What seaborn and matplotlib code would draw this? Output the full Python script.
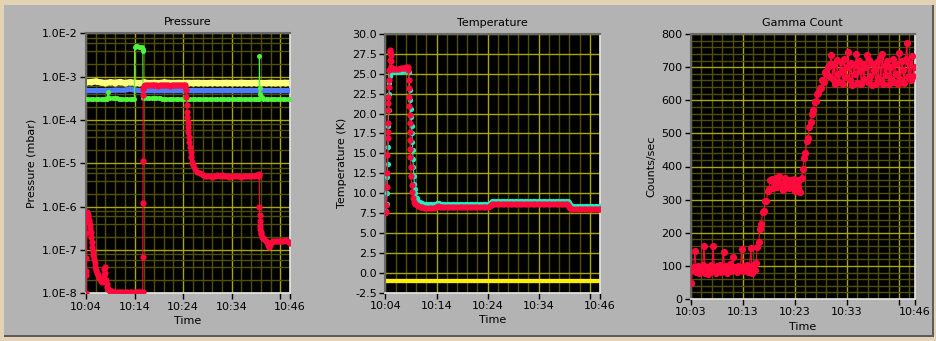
import numpy as np
import matplotlib
matplotlib.use("Agg")
import matplotlib.pyplot as plt
from matplotlib.patches import Rectangle
from matplotlib.ticker import FixedLocator, NullFormatter
import seaborn as sns

plt.rcParams['font.family'] = ['DejaVu Sans']

# ---------------- DATA (time in minutes after 10:00) ----------------
# Pressure panel (mbar)
pressure_yellow = [(4, 7.4e-4), (5, 7.6e-4), (6, 7.8e-4), (7, 7.4e-4), (8, 7.2e-4), (9, 7.5e-4),
                   (10, 7.3e-4), (11, 7.6e-4), (12, 7.2e-4), (13, 7.5e-4), (14, 7.3e-4), (15, 7.2e-4),
                   (16, 7.4e-4), (17, 7.2e-4), (18, 7.3e-4), (19, 7.2e-4), (20, 7.4e-4), (21, 7.3e-4),
                   (22, 7.2e-4), (23, 7.3e-4), (24, 7.2e-4), (25, 7.3e-4), (26, 7.2e-4), (27, 7.3e-4),
                   (28, 7.2e-4), (29, 7.2e-4), (30, 7.3e-4), (31, 7.2e-4), (32, 7.2e-4), (33, 7.3e-4),
                   (34, 7.2e-4), (35, 7.2e-4), (36, 7.3e-4), (37, 7.2e-4), (38, 7.2e-4), (39, 7.3e-4),
                   (40, 7.2e-4), (41, 7.2e-4), (42, 7.3e-4), (43, 7.2e-4), (44, 7.2e-4), (45, 7.3e-4),
                   (46, 7.2e-4)]
pressure_blue = [(4, 4.8e-4), (6, 4.8e-4), (8, 4.8e-4), (10, 4.9e-4), (12, 4.9e-4), (13, 5.2e-4),
                 (14, 4.9e-4), (16, 4.8e-4), (18, 4.8e-4), (20, 4.8e-4), (22, 4.8e-4), (24, 4.8e-4),
                 (26, 4.8e-4), (28, 4.8e-4), (30, 4.8e-4), (32, 4.8e-4), (34, 4.8e-4), (36, 4.8e-4),
                 (38, 4.8e-4), (40, 4.8e-4), (42, 4.8e-4), (44, 4.8e-4), (46, 4.8e-4)]
pressure_green = [(4.0, 3.0e-4), (4.5, 3.0e-4), (5.0, 3.0e-4), (5.5, 3.0e-4), (6.0, 3.0e-4), (6.5, 3.0e-4),
                  (7.0, 3.0e-4), (7.5, 3.0e-4), (8.0, 3.0e-4), (8.4, 3.0e-4), (8.45, 4.4e-4), (8.6, 3.4e-4),
                  (9.0, 3.3e-4), (9.5, 3.3e-4), (10.0, 3.3e-4), (10.4, 3.3e-4), (10.7, 3.0e-4), (11.0, 3.0e-4),
                  (11.5, 3.0e-4), (12.0, 3.0e-4), (12.5, 3.0e-4), (13.0, 3.0e-4), (13.5, 3.0e-4), (13.95, 3.0e-4),
                  (14.0, 4.9e-3), (14.3, 5.1e-3), (14.6, 5.1e-3), (14.9, 5.0e-3), (15.2, 4.9e-3), (15.45, 4.8e-3),
                  (15.65, 4.5e-3), (15.7, 3.9e-3), (15.75, 3.3e-4), (16.0, 3.3e-4), (16.5, 3.3e-4), (17.0, 3.3e-4),
                  (17.5, 3.3e-4), (18.0, 3.3e-4), (18.5, 3.3e-4), (19.0, 3.3e-4), (19.3, 3.3e-4), (19.6, 3.0e-4),
                  (20.0, 3.0e-4), (20.5, 3.0e-4), (21.0, 3.0e-4), (21.5, 3.0e-4), (22.0, 3.0e-4), (22.5, 3.0e-4),
                  (23.0, 3.0e-4), (23.5, 3.0e-4), (24.0, 3.0e-4), (24.5, 3.0e-4), (25.0, 3.0e-4), (25.5, 3.0e-4),
                  (26.0, 3.0e-4), (26.5, 3.0e-4), (27.0, 3.0e-4), (27.5, 3.0e-4), (28.0, 3.0e-4), (28.5, 3.0e-4),
                  (29.0, 3.0e-4), (29.5, 3.0e-4), (30.0, 3.0e-4), (30.5, 3.0e-4), (31.0, 3.0e-4), (31.5, 3.0e-4),
                  (32.0, 3.0e-4), (32.5, 3.0e-4), (33.0, 3.0e-4), (33.5, 3.0e-4), (34.0, 3.0e-4), (34.5, 3.0e-4),
                  (35.0, 3.0e-4), (35.5, 3.0e-4), (36.0, 3.0e-4), (36.5, 3.0e-4), (37.0, 3.0e-4), (37.5, 3.0e-4),
                  (38.0, 3.0e-4), (38.5, 3.0e-4), (39.0, 3.0e-4), (39.4, 3.0e-4), (39.65, 3.0e-4), (39.7, 3.0e-3),
                  (39.75, 5.6e-4), (39.9, 4.1e-4), (40.2, 3.5e-4), (40.5, 3.1e-4), (41.0, 3.0e-4), (41.5, 3.0e-4),
                  (42.0, 3.0e-4), (42.5, 3.0e-4), (43.0, 3.0e-4), (43.5, 3.0e-4), (44.0, 3.0e-4), (44.5, 3.0e-4),
                  (45.0, 3.0e-4), (45.5, 3.0e-4), (46.0, 3.0e-4)]
pressure_red = [(4.00, 1.0e-8), (4.02, 2.6e-8), (4.04, 3.2e-8), (4.06, 6.4e-8), (4.09, 2.5e-7), (4.12, 7.6e-7),
                (4.2, 6.2e-7), (4.3, 7.2e-7), (4.4, 5.4e-7), (4.5, 6.4e-7), (4.6, 5.0e-7), (4.7, 4.4e-7),
                (4.8, 3.8e-7), (4.9, 3.2e-7), (5.0, 2.6e-7), (5.1, 2.0e-7), (5.2, 1.55e-7), (5.3, 1.2e-7),
                (5.4, 9.5e-8), (5.5, 7.8e-8), (5.65, 6.2e-8), (5.8, 5.0e-8), (5.95, 4.1e-8), (6.1, 3.5e-8),
                (6.3, 3.0e-8), (6.5, 2.6e-8), (6.7, 2.3e-8), (6.9, 2.1e-8), (7.1, 1.95e-8), (7.3, 1.85e-8),
                (7.5, 1.9e-8), (7.65, 2.6e-8), (7.8, 3.6e-8), (7.9, 4.1e-8), (8.0, 3.0e-8), (8.1, 2.0e-8),
                (8.25, 1.6e-8), (8.4, 1.4e-8), (8.6, 1.28e-8), (8.8, 1.2e-8), (9.0, 1.15e-8), (9.3, 1.12e-8),
                (9.6, 1.1e-8), (10.0, 1.1e-8), (10.5, 1.1e-8), (11.0, 1.1e-8), (11.5, 1.1e-8), (12.0, 1.1e-8),
                (12.5, 1.1e-8), (13.0, 1.1e-8), (13.5, 1.1e-8), (14.0, 1.1e-8), (14.5, 1.1e-8), (15.0, 1.1e-8),
                (15.4, 1.1e-8), (15.68, 1.1e-8), (15.70, 7.0e-8), (15.72, 1.2e-6), (15.74, 1.15e-5), (15.76, 3.8e-4),
                (15.8, 5.2e-4), (15.9, 6.0e-4), (16.1, 6.4e-4), (16.5, 6.5e-4), (16.9, 6.3e-4), (17.3, 6.5e-4),
                (17.7, 6.4e-4), (18.1, 6.3e-4), (18.5, 6.5e-4), (18.9, 6.0e-4), (19.3, 6.3e-4), (19.7, 6.5e-4),
                (20.1, 6.3e-4), (20.5, 6.4e-4), (20.9, 6.5e-4), (21.3, 6.2e-4), (21.7, 6.4e-4), (22.1, 6.5e-4),
                (22.5, 6.3e-4), (22.9, 6.4e-4), (23.3, 6.5e-4), (23.7, 6.4e-4), (24.1, 6.5e-4), (24.4, 6.3e-4),
                (24.48, 5.7e-4), (24.62, 4.9e-4), (24.68, 3.4e-4), (24.75, 2.2e-4), (24.82, 1.56e-4), (24.89, 1.2e-4),
                (24.96, 9.2e-5), (25.03, 7.0e-5), (25.1, 5.4e-5), (25.16, 4.1e-5), (25.3, 3.2e-5), (25.44, 2.4e-5),
                (25.58, 1.85e-5), (25.71, 1.4e-5), (25.92, 1.1e-5), (26.12, 9.2e-6), (26.47, 7.6e-6), (26.95, 6.4e-6),
                (27.49, 5.9e-6), (28.0, 5.5e-6), (28.5, 5.2e-6), (29.0, 5.0e-6), (29.5, 5.2e-6), (30.0, 4.9e-6),
                (30.5, 5.1e-6), (31.0, 5.3e-6), (31.5, 5.0e-6), (32.0, 5.4e-6), (32.5, 5.0e-6), (33.0, 5.2e-6),
                (33.5, 4.9e-6), (34.0, 5.1e-6), (34.5, 5.2e-6), (35.0, 5.0e-6), (35.5, 5.1e-6), (36.0, 4.9e-6),
                (36.5, 5.1e-6), (37.0, 5.0e-6), (37.5, 5.2e-6), (38.0, 5.0e-6), (38.5, 5.1e-6), (39.0, 5.3e-6),
                (39.4, 5.0e-6), (39.6, 5.6e-6), (39.68, 5.2e-6), (39.72, 1.0e-6), (39.76, 6.5e-7), (39.8, 4.6e-7),
                (39.85, 3.6e-7), (39.92, 3.0e-7), (40.0, 2.6e-7), (40.1, 2.3e-7), (40.25, 2.05e-7), (40.45, 1.9e-7),
                (40.7, 1.75e-7), (41.0, 1.6e-7), (41.3, 1.5e-7), (41.55, 1.3e-7), (41.75, 1.15e-7), (41.95, 1.3e-7),
                (42.2, 1.5e-7), (42.5, 1.62e-7), (42.9, 1.58e-7), (43.3, 1.65e-7), (43.7, 1.6e-7), (44.1, 1.62e-7),
                (44.5, 1.58e-7), (44.9, 1.66e-7), (45.3, 1.6e-7), (45.7, 1.5e-7), (46.0, 1.45e-7)]

# Temperature panel (K)
temp_yellow = [(4, -1.0), (14, -1.0), (24, -1.0), (34, -1.0), (46, -1.0)]
temp_cyan = [(4.10, 7.8), (4.2, 8.6), (4.28, 10.0), (4.36, 12.0), (4.42, 13.7), (4.48, 15.8), (4.55, 18.4),
             (4.62, 20.5), (4.7, 22.4), (4.78, 23.8), (4.86, 24.7), (4.95, 25.1), (5.1, 25.2), (5.5, 25.2),
             (6.0, 25.2), (6.5, 25.2), (7.0, 25.2), (7.5, 25.3), (8.0, 25.3), (8.4, 25.3), (8.55, 25.2),
             (8.61, 24.2), (8.7, 23.0), (8.8, 21.7), (8.9, 20.6), (9.0, 19.6), (9.1, 18.5), (9.2, 17.5),
             (9.26, 16.4), (9.32, 15.4), (9.38, 14.3), (9.45, 13.3), (9.55, 12.2), (9.65, 11.2), (9.75, 10.5),
             (9.84, 10.0), (10.1, 9.35), (10.4, 9.0), (10.8, 8.85), (11.2, 8.75), (11.6, 8.7), (12.0, 8.7),
             (12.5, 8.7), (13.0, 8.7), (13.5, 8.7), (14.0, 8.75), (14.5, 8.75), (15.0, 8.7), (15.5, 8.7),
             (16.0, 8.7), (16.5, 8.7), (17.0, 8.7), (17.5, 8.7), (18.0, 8.7), (18.5, 8.7), (19.0, 8.7),
             (19.5, 8.7), (20.0, 8.7), (20.5, 8.7), (21.0, 8.7), (21.5, 8.7), (22.0, 8.7), (22.5, 8.7),
             (23.0, 8.7), (23.5, 8.7), (24.0, 8.7), (24.4, 8.75), (24.6, 8.9), (24.8, 9.0), (25.3, 9.0),
             (25.8, 9.0), (26.3, 9.0), (26.8, 9.0), (27.3, 9.0), (27.8, 9.0), (28.3, 9.0), (28.8, 9.0),
             (29.3, 9.0), (29.8, 9.0), (30.3, 9.0), (30.8, 9.0), (31.3, 9.0), (31.8, 9.0), (32.3, 9.0),
             (32.8, 9.0), (33.3, 9.0), (33.8, 9.0), (34.3, 9.0), (34.8, 9.0), (35.3, 9.0), (35.8, 9.0),
             (36.3, 9.0), (36.8, 9.0), (37.3, 9.0), (37.8, 9.0), (38.3, 9.0), (38.8, 9.0), (39.3, 9.0),
             (39.7, 9.0), (39.9, 8.9), (40.1, 8.7), (40.3, 8.5), (40.5, 8.45), (41.0, 8.45), (41.5, 8.45),
             (42.0, 8.45), (42.5, 8.45), (43.0, 8.45), (43.5, 8.45), (44.0, 8.45), (44.5, 8.45), (45.0, 8.45),
             (45.5, 8.45), (46.0, 8.45)]
temp_red = [(4.00, 7.5), (4.13, 7.6), (4.19, 8.5), (4.26, 10.8), (4.32, 12.5), (4.39, 14.8), (4.42, 16.9),
            (4.45, 17.7), (4.48, 18.8), (4.52, 20.5), (4.55, 21.3), (4.58, 22.1), (4.65, 23.4), (4.71, 24.2),
            (4.75, 25.5), (4.80, 26.7), (4.86, 27.6), (4.91, 28.0), (4.95, 27.9), (5.00, 27.3), (5.05, 26.6),
            (5.12, 25.9), (5.25, 25.6), (5.6, 25.6), (5.95, 25.6), (6.3, 25.6), (6.65, 25.6), (7.0, 25.7),
            (7.35, 25.7), (7.7, 25.7), (8.05, 25.8), (8.35, 25.9), (8.5, 25.5), (8.55, 24.2), (8.61, 23.2),
            (8.65, 22.1), (8.68, 20.9), (8.71, 19.8), (8.74, 18.8), (8.78, 17.7), (8.81, 16.7), (8.84, 15.6),
            (8.88, 14.6), (8.94, 13.3), (9.02, 12.1), (9.13, 11.0), (9.26, 10.2), (9.45, 9.4), (9.65, 8.95),
            (9.85, 8.7), (10.1, 8.5), (10.4, 8.4), (10.75, 8.3), (11.1, 8.25), (11.5, 8.2), (12.0, 8.2),
            (12.5, 8.15), (13.0, 8.15), (13.5, 8.15), (13.9, 8.25), (14.2, 8.35), (14.6, 8.3), (15.0, 8.3),
            (15.5, 8.3), (16.0, 8.3), (16.5, 8.3), (17.0, 8.3), (17.5, 8.3), (18.0, 8.3), (18.5, 8.3),
            (19.0, 8.3), (19.5, 8.3), (20.0, 8.3), (20.5, 8.3), (21.0, 8.3), (21.5, 8.3), (22.0, 8.3),
            (22.5, 8.3), (23.0, 8.3), (23.5, 8.3), (24.0, 8.3), (24.4, 8.4), (24.6, 8.55), (24.8, 8.6),
            (25.3, 8.6), (25.8, 8.6), (26.3, 8.6), (26.8, 8.6), (27.3, 8.6), (27.8, 8.6), (28.3, 8.6),
            (28.8, 8.6), (29.3, 8.6), (29.8, 8.6), (30.3, 8.6), (30.8, 8.6), (31.3, 8.6), (31.8, 8.6),
            (32.3, 8.6), (32.8, 8.6), (33.3, 8.6), (33.8, 8.6), (34.3, 8.6), (34.8, 8.6), (35.3, 8.6),
            (35.8, 8.6), (36.3, 8.6), (36.8, 8.6), (37.3, 8.6), (37.8, 8.6), (38.3, 8.6), (38.8, 8.6),
            (39.3, 8.6), (39.6, 8.6), (39.8, 8.5), (40.0, 8.3), (40.2, 8.1), (40.4, 8.0), (40.8, 8.0),
            (41.3, 8.0), (41.8, 8.0), (42.3, 8.0), (42.8, 8.0), (43.3, 8.0), (43.8, 8.0), (44.3, 8.0),
            (44.8, 8.0), (45.3, 8.0), (45.8, 8.0), (46.0, 8.0)]

# Gamma count panel (counts/sec), sampled every 0.25 min from 10:03 to 10:46
gamma_start, gamma_step = 3.0, 0.25
gamma_counts = [49, 88, 96, 146, 82, 100, 78, 95, 85, 102,
                160, 80, 97, 76, 92, 103, 84, 160, 90, 78,
                99, 86, 104, 82, 95, 141, 88, 100, 80, 94,
                105, 86, 128, 90, 98, 82, 101, 88, 96, 151,
                84, 100, 90, 104, 83, 97, 153, 80, 102, 88,
                110, 158, 172, 212, 226, 262, 266, 295, 296, 325, 332, 358,
                362, 335, 350, 366, 338, 355, 372, 340, 348, 330, 365, 342,
                352, 334, 358, 345, 340, 362, 325, 350, 338, 360, 322, 365,
                392, 425, 440, 476, 486, 520, 535, 560, 570, 596, 598,
                620, 622, 638, 636, 662, 655, 685, 680, 700, 672, 710,
                736, 665, 710, 650, 722, 680, 655, 715, 690, 648,
                725, 670, 700, 746, 660, 712, 645, 705, 680, 741,
                652, 718, 690, 648, 710, 665, 700, 736, 655, 722,
                672, 645, 708, 690, 650, 715, 668, 728, 660, 741,
                650, 705, 675, 720, 648, 700, 665, 725, 655, 710,
                680, 648, 744, 665, 718, 690, 652, 725, 772, 670,
                712, 660, 735, 672, 700]

# Tick labels
pressure_xticks = [4, 14, 24, 34, 44, 46]
pressure_xlabels = ["10:04", "10:14", "10:24", "10:34", "", "10:46"]
gamma_xticks = [3, 13, 23, 33, 43, 46]
gamma_xlabels = ["10:03", "10:13", "10:23", "10:33", "", "10:46"]
pressure_yticks = [1e-2, 1e-3, 1e-4, 1e-5, 1e-6, 1e-7, 1e-8]
pressure_ylabels = ["1.0E-2", "1.0E-3", "1.0E-4", "1.0E-5", "1.0E-6", "1.0E-7", "1.0E-8"]
temp_yticks = [30.0, 27.5, 25.0, 22.5, 20.0, 17.5, 15.0, 12.5, 10.0, 7.5, 5.0, 2.5, 0.0, -2.5]
temp_ylabels = ["30.0", "27.5", "25.0", "22.5", "20.0", "17.5", "15.0", "12.5", "10.0", "7.5",
                "5.0", "2.5", "0.0", "-2.5"]
gamma_yticks = [0, 100, 200, 300, 400, 500, 600, 700, 800]
gamma_ylabels = ["0", "100", "200", "300", "400", "500", "600", "700", "800"]

# ---------------- STYLE ----------------
BEIGE = '#E4D2B4'
PANEL = '#B3B3B3'
MAJ = '#A8A800'
MIN = '#505000'
RED = '#FF0A3C'
GREEN = '#4CF53A'
BLUE = '#4F7BFF'
PYELLOW = '#FFFF80'
TYELLOW = '#FFF000'
CYAN = '#1EF0C4'
FS = 8
W, H = 937, 341

fig = plt.figure(figsize=(W / 100, H / 100), dpi=100, facecolor=BEIGE)
fig.add_artist(Rectangle((4 / W, 1 - 335 / H), 928 / W, 330 / H, transform=fig.transFigure,
                         facecolor=PANEL, edgecolor='none', zorder=0))
fig.add_artist(Rectangle((4 / W, 1 - 337 / H), 930 / W, 2 / H, transform=fig.transFigure,
                         facecolor='#5C5C5C', edgecolor='none', zorder=0))
fig.add_artist(Rectangle((932 / W, 1 - 337 / H), 2 / W, 332 / H, transform=fig.transFigure,
                         facecolor='#5C5C5C', edgecolor='none', zorder=0))


def make_axes(left, top, right, bottom):
    return fig.add_axes([left / W, 1 - bottom / H, (right - left) / W, (bottom - top) / H])


def style(ax, title, ylabel, xlim, xticks, xlabels, xminor, ylim, yticks, ylabels, yminor):
    ax.set_facecolor('black')
    ax.set_xlim(*xlim)
    ax.set_ylim(*ylim)
    ax.xaxis.set_major_locator(FixedLocator(xticks))
    ax.set_xticklabels(xlabels)
    ax.xaxis.set_minor_locator(FixedLocator(xminor))
    ax.yaxis.set_major_locator(FixedLocator(yticks))
    ax.set_yticklabels(ylabels)
    ax.yaxis.set_minor_locator(FixedLocator(yminor))
    ax.yaxis.set_minor_formatter(NullFormatter())
    ax.xaxis.set_minor_formatter(NullFormatter())
    ax.set_axisbelow(True)
    ax.grid(which='minor', color=MIN, lw=1.0)
    ax.grid(which='major', color=MAJ, lw=1.0)
    ax.tick_params(which='major', direction='out', length=4, width=1, color='black',
                   labelsize=FS, pad=2, labelcolor='black')
    ax.tick_params(which='minor', length=0)
    ax.set_title(title, fontsize=FS, pad=6)
    ax.set_xlabel('Time', fontsize=FS, labelpad=3)
    ax.set_ylabel(ylabel, fontsize=FS, labelpad=4)
    for s in ['left', 'top']:
        ax.spines[s].set_color('#6A6A6A')
        ax.spines[s].set_linewidth(1.5)
    for s in ['right', 'bottom']:
        ax.spines[s].set_color('#E6E6E6')
        ax.spines[s].set_linewidth(1.2)


def series(ax, data, color, lw=0.75, ms=0, z=2):
    t, v = zip(*data)
    kw = dict(marker='o', markersize=ms, markeredgewidth=0) if ms else {}
    sns.lineplot(x=list(t), y=list(v), ax=ax, color=color, lw=lw, estimator=None,
                 sort=False, errorbar=None, zorder=z, solid_capstyle='butt', **kw)


# ----- Pressure -----
axP = make_axes(86, 33.5, 290, 293.3)
series(axP, pressure_yellow, PYELLOW, lw=4.5, ms=4.5, z=2)
series(axP, pressure_blue, BLUE, lw=3.8, z=3)
series(axP, pressure_green, GREEN, lw=0.8, ms=3.6, z=4)
series(axP, pressure_red, RED, lw=0.8, ms=4.5, z=5)
axP.set_yscale('log')
p_minor = [m * 10.0 ** e for e in range(-8, -2) for m in (2, 4, 6, 8)]
style(axP, 'Pressure', 'Pressure (mbar)', (4, 46), pressure_xticks, pressure_xlabels,
      list(np.arange(4, 47, 2)), (1e-8, 1e-2), pressure_yticks, pressure_ylabels, p_minor)

# ----- Temperature -----
axT = make_axes(385.5, 34, 600, 292.7)
series(axT, temp_yellow, TYELLOW, lw=3.1, z=2)
series(axT, temp_cyan, CYAN, lw=0.8, ms=3.8, z=3)
series(axT, temp_red, RED, lw=0.8, ms=4.5, z=4)
style(axT, 'Temperature', 'Temperature (K)', (4, 46), pressure_xticks, pressure_xlabels,
      list(np.arange(4, 47, 2)), (-2.5, 30), temp_yticks, temp_ylabels, [])

# ----- Gamma -----
axG = make_axes(691, 34, 914.7, 299)
g_t = gamma_start + gamma_step * np.arange(len(gamma_counts))
series(axG, list(zip(g_t, gamma_counts)), RED, lw=0.8, ms=5.2, z=3)
style(axG, 'Gamma Count', 'Counts/sec', (3, 46), gamma_xticks, gamma_xlabels,
      list(np.arange(5, 46, 2)), (0, 800), gamma_yticks, gamma_ylabels, list(np.arange(20, 800, 20)))

fig.savefig('out.png', dpi=100, facecolor=BEIGE)
